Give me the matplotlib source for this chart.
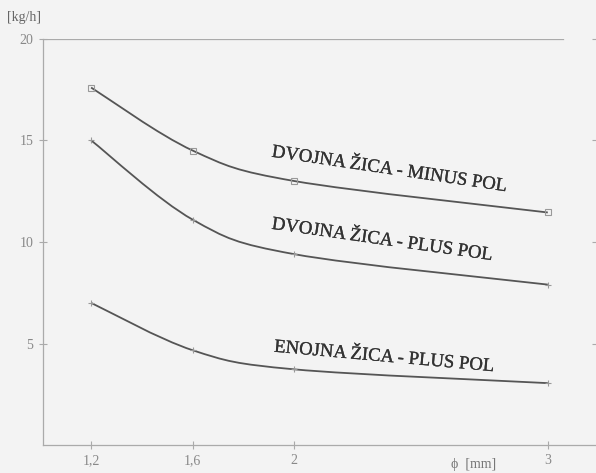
import numpy as np
import matplotlib
matplotlib.use("Agg")
import matplotlib.pyplot as plt
import matplotlib.patheffects as pe
from matplotlib.path import Path
from matplotlib.patches import PathPatch

plt.rcParams['font.family'] = ['Liberation Serif', 'DejaVu Serif']

# premer zice [mm]
premer = [1.2, 1.6, 2.0, 3.0]
# talilna moc [kg/h]
dvojna_minus = [17.6, 14.5, 13.0, 11.45]
dvojna_plus = [15.0, 11.1, 9.4, 7.9]
enojna_plus = [7.0, 4.67, 3.73, 3.05]

x_ticks = [1.2, 1.6, 2, 3]
x_labels = ["1,2", "1,6", "2", "3"]
y_ticks = [5, 10, 15, 20]


def smooth_path(xs, ys, k=6.0):
    # Catmull-Rom -> Bezier control points, drawn through the data transform
    pts = np.column_stack([xs, ys])
    verts = [pts[0]]
    codes = [Path.MOVETO]
    n = len(pts)
    for i in range(n - 1):
        p0 = pts[i - 1] if i > 0 else pts[i]
        p1 = pts[i]
        p2 = pts[i + 1]
        p3 = pts[i + 2] if i + 2 < n else pts[i + 1]
        c1 = p1 + (p2 - p0) / k
        c2 = p2 - (p3 - p1) / k
        verts += [c1, c2, p2]
        codes += [Path.CURVE4] * 3
    return Path(verts, codes)


fig = plt.figure(figsize=(5.96, 4.73), dpi=100, facecolor="#f3f3f3")
ax = fig.add_axes([0.072, 0.059, 0.928, 0.859])
ax.set_facecolor("#f3f3f3")
ax.set_xlim(1.01, 3.19)
ax.set_ylim(0, 20)

line_col = "#555555"
for ys, mk in [(dvojna_minus, "s"), (dvojna_plus, "+"), (enojna_plus, "+")]:
    ax.add_patch(PathPatch(smooth_path(premer, ys), fill=False, edgecolor=line_col, lw=1.3))
    ax.plot(premer, ys, linestyle="none", marker=mk, markersize=5,
            markerfacecolor="none", markeredgecolor="#999999", markeredgewidth=0.8)

for s in ["top", "right"]:
    ax.spines[s].set_visible(False)
for s in ["left", "bottom"]:
    ax.spines[s].set_color("#aaaaaa")
    ax.spines[s].set_linewidth(0.9)
ax.axhline(20, xmin=0, xmax=0.94, color="#aaaaaa", lw=0.9)

ax.set_xticks(x_ticks)
ax.set_xticklabels(x_labels)
ax.set_yticks(y_ticks)
ax.tick_params(axis="both", direction="inout", length=6, width=0.8, color="#aaaaaa",
               labelcolor="#888888", labelsize=10)
ax.tick_params(axis="y", right=True, pad=4)

ax.text(-0.065, 1.045, "[kg/h]", transform=ax.transAxes, fontsize=10, color="#666666")
ax.text(2.62, -0.95, "ϕ  [mm]", fontsize=10, color="#777777", ha="left", va="center")

lab = dict(fontsize=13.5, color="#333333", ha="left", va="baseline", rotation_mode="anchor",
           path_effects=[pe.withStroke(linewidth=0.2, foreground="#333333")])
ax.text(1.91, 14.2, "DVOJNA ŽICA - MINUS POL", rotation=-8.4, **lab)
ax.text(1.91, 10.65, "DVOJNA ŽICA - PLUS POL", rotation=-8.1, **lab)
ax.text(1.92, 4.6, "ENOJNA ŽICA - PLUS POL", rotation=-5.1, **lab)

fig.savefig("out.png", dpi=100, facecolor=fig.get_facecolor())
